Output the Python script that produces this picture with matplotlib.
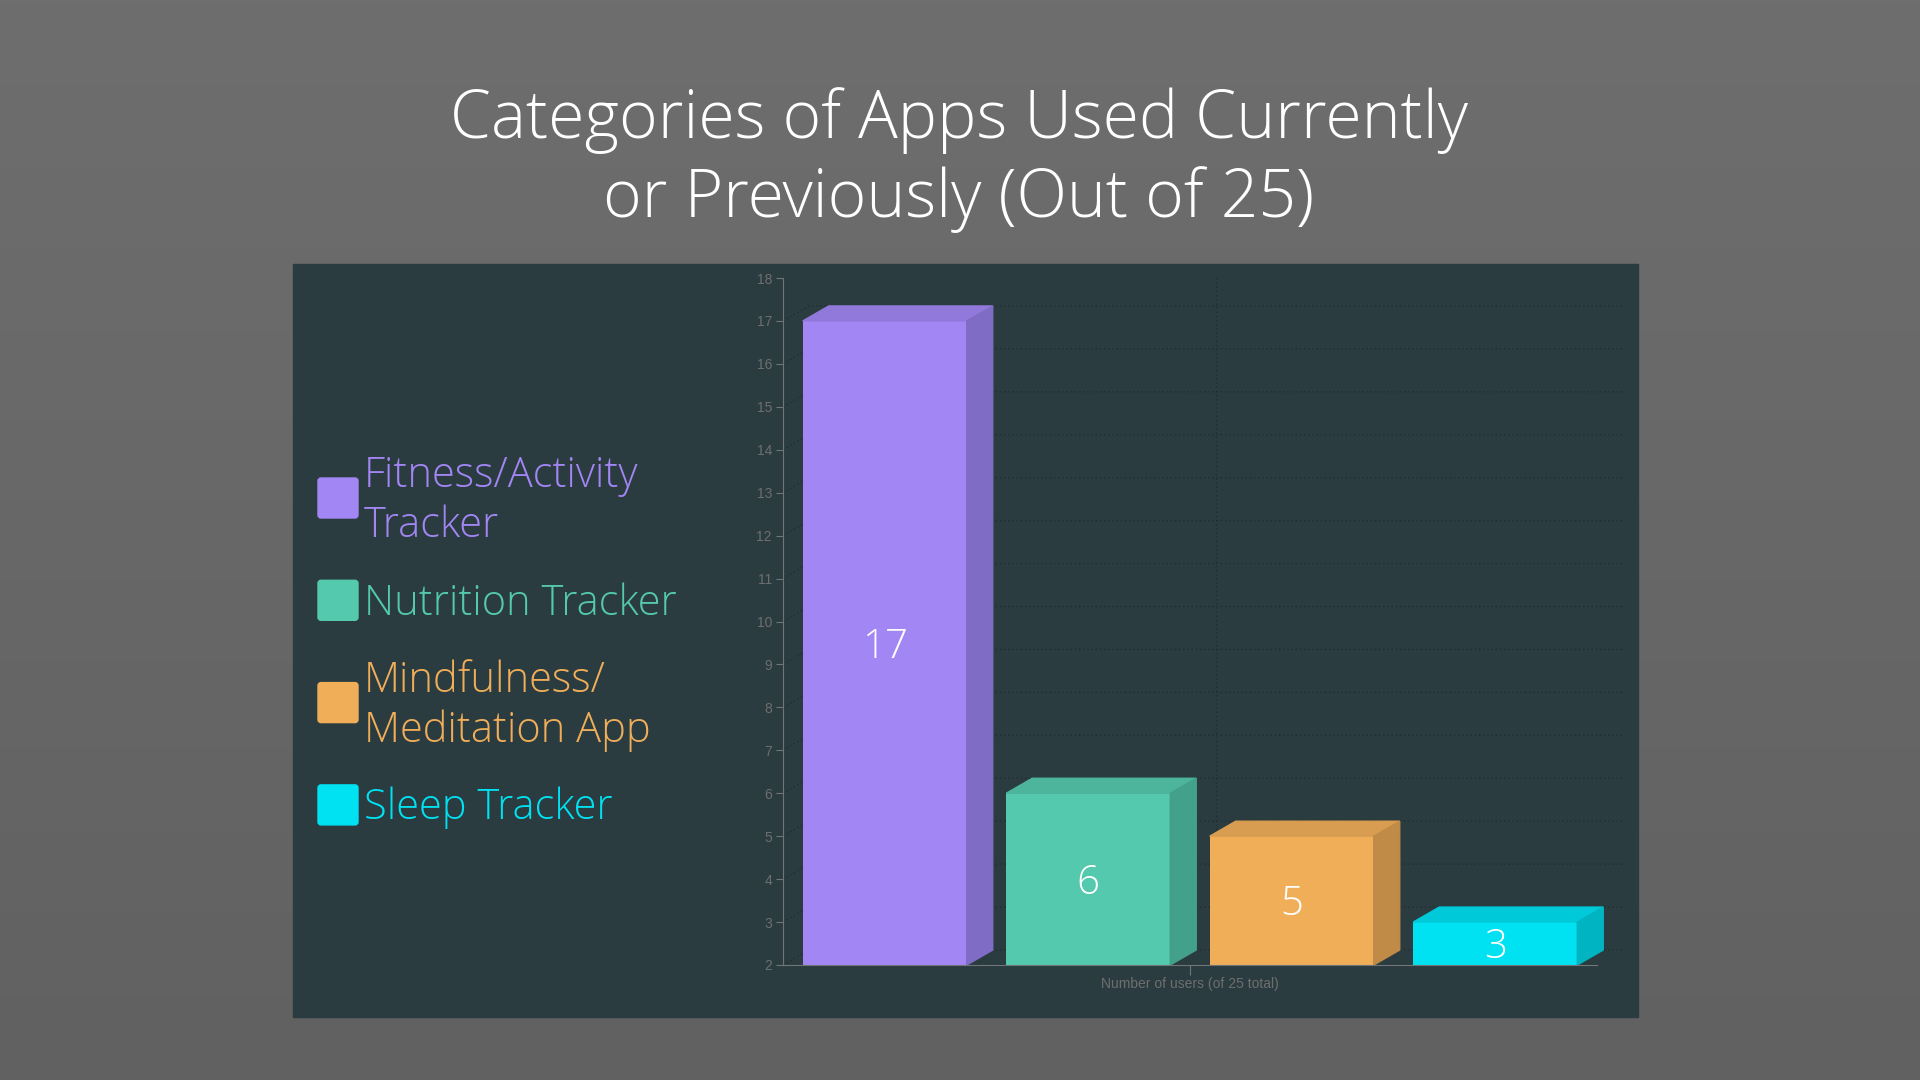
import numpy as np
import matplotlib.pyplot as plt
from matplotlib.patches import Polygon, Rectangle, FancyBboxPatch
from matplotlib.colors import LinearSegmentedColormap

# data
categories = ["Fitness/Activity Tracker", "Nutrition Tracker",
              "Mindfulness/Meditation App", "Sleep Tracker"]
legend_labels = ["Fitness/Activity\nTracker", "Nutrition Tracker",
                 "Mindfulness/\nMeditation App", "Sleep Tracker"]
users = [17, 6, 5, 3]
y_ticks = list(range(2, 19))

front_colors = ["#A286F4", "#54C9AD", "#F0AE59", "#00E1F2"]
top_colors = ["#9179DC", "#4CB59B", "#D89D50", "#00CAD9"]
side_colors = ["#7F6CC4", "#43A08A", "#C08B47", "#00B4C2"]

title = "Categories of Apps Used Currently\nor Previously (Out of 25)"
xlabel = "Number of users (of 25 total)"

FONT = "Open Sans"
W, H = 1920, 1080
fig = plt.figure(figsize=(19.2, 10.8), dpi=100)

# background (pixel coordinates, y down)
bg = fig.add_axes([0, 0, 1, 1], zorder=0)
grad = np.linspace(0, 1, 256)[:, None]
cmap = LinearSegmentedColormap.from_list("bg", ["#6e6e6e", "#616161"])
bg.imshow(grad, cmap=cmap, aspect="auto", extent=[0, W, H, 0])
bg.set_xlim(0, W)
bg.set_ylim(H, 0)
bg.axis("off")
bg.add_patch(Rectangle((293, 264), 1345, 753, color="#2B3C41", zorder=1))

bg.text(959, 160, title, ha="center", va="center", fontsize=47.5, color="white",
        family=FONT, weight="light", linespacing=1.24, zorder=2)

# legend
for i, (lab, col) in enumerate(zip(legend_labels, front_colors)):
    cy = 498 + i * 102.3
    bg.add_patch(FancyBboxPatch((319, cy - 19), 38, 38,
                                boxstyle="round,pad=1,rounding_size=3",
                                color=col, zorder=2))
    bg.text(364, cy + 3, lab, ha="left", va="center", fontsize=30, color=col,
            family=FONT, weight="light", linespacing=1.22, zorder=2)

# chart axes
ax = fig.add_axes([783 / W, 1 - 965 / H, 814 / W, 687 / H], zorder=1)
ax.patch.set_alpha(0)
base = y_ticks[0]
ax.set_xlim(-0.5, len(users) - 0.5)
ax.set_ylim(base, y_ticks[-1])

dx = 26 / 203.5   # 3d depth in category units
dy = 15 / 42.94   # 3d depth in value units
width = 0.806
grid_col = "#212c30"

# back wall grid
for y in y_ticks[:-1]:
    ax.plot([-0.5, -0.5 + dx, len(users) - 0.5 + dx], [y, y + dy, y + dy],
            ls=(0, (1, 2)), color=grid_col, lw=1, clip_on=False, zorder=0.5)
mid = (len(users) - 1) / 2
ax.plot([mid + dx, mid + dx], [base + dy, y_ticks[-1]], ls=(0, (1, 2)),
        color=grid_col, lw=1, clip_on=False, zorder=0.5)

x = np.arange(len(users))
ax.bar(x, [v - base for v in users], bottom=base, width=width,
       color=front_colors, zorder=2)
for xi, v, tc, sc in zip(x, users, top_colors, side_colors):
    l, r = xi - width / 2, xi + width / 2
    ax.add_patch(Polygon([(l, v), (l + dx, v + dy), (r + dx, v + dy), (r, v)],
                         closed=True, color=tc, clip_on=False, zorder=2))
    ax.add_patch(Polygon([(r, base), (r, v), (r + dx, v + dy), (r + dx, base + dy)],
                         closed=True, color=sc, clip_on=False, zorder=2))
    ax.text(xi, (base + v) / 2 - 0.1, str(v), ha="center", va="center",
            color="white", fontsize=29, family=FONT, weight="light", zorder=3)

axis_col = "#6f7578"
for s in ["top", "right"]:
    ax.spines[s].set_visible(False)
for s in ["left", "bottom"]:
    ax.spines[s].set_color(axis_col)
    ax.spines[s].set_zorder(4)

ax.set_yticks(y_ticks)
ax.set_xticks([mid])
ax.set_xticklabels([""])
ax.tick_params(axis="y", colors=axis_col, labelcolor="#6e6e6e", length=5,
               labelsize=10, pad=3)
ax.tick_params(axis="x", colors=axis_col, length=7)
for t in ax.get_yticklabels():
    t.set_family("Liberation Sans")
ax.set_xlabel(xlabel, color="#6e6e6e", fontsize=10, family="Liberation Sans",
              labelpad=-2)

fig.savefig("out.png", dpi=100)
